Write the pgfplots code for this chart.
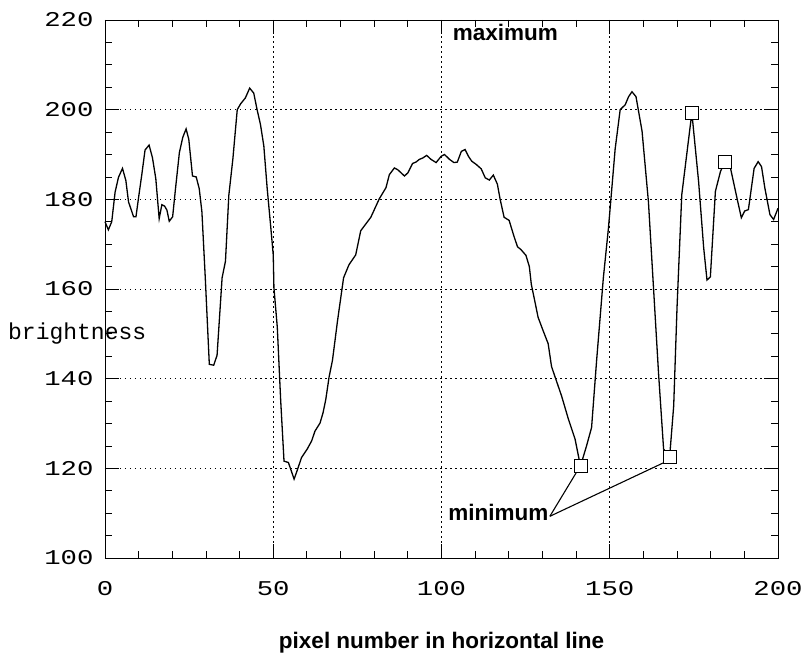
\documentclass[border=0pt]{standalone}
\usepackage{fontspec}
\usepackage{pgfplots}
\pgfplotsset{compat=1.18}
\usetikzlibrary{calc}
\newfontfamily\tickfont[FakeStretch=1.3]{Liberation Mono}
\newfontfamily\monofont{Liberation Mono}
\newfontfamily\arialfont{Liberation Sans}
\begin{document}
\begin{tikzpicture}
\begin{axis}[
  scale only axis, width=673pt, height=538pt,
  xmin=0, xmax=200, ymin=100, ymax=220,
  xtick={0,50,100,150,200}, ytick={100,120,...,220},
  minor xtick={10,20,30,40,60,70,80,90,110,120,130,140,160,170,180,190},
  minor ytick={105,110,115,125,130,135,145,150,155,165,170,175,185,190,195,205,210,215},
  tick align=inside,
  major tick length=14pt, minor tick length=7pt,
  every tick/.style={black, line width=0.8pt},
  axis line style={black, line width=0.9pt},
  grid=major,
  major grid style={black, line width=0.9pt, dash pattern=on 1.5pt off 3.5pt},
  /pgf/number format/assume math mode=true,
  xticklabel style={font=\tickfont\fontsize{21}{21}\selectfont, yshift=-20pt},
  yticklabel style={font=\tickfont\fontsize{21}{21}\selectfont, xshift=-8pt},
  clip=false,
]
\addplot[black, line width=1.3pt, mark=none] coordinates {
(0,175.0) (1,173.2) (2,175) (3,181.6) (4,184.9) (5.2,186.9) (6.2,184.2) (7,179.4)
(8.5,176.1) (9.2,176.1) (10.2,181.6) (10.9,185.3) (11.9,191) (13.1,192.1) (14.1,189.3)
(15.1,184.6) (16.1,175.7) (16.9,178.8) (17.7,178.5) (18.4,177.6) (19.1,175.1) (20.1,176.1)
(20.9,182) (22.1,190.4) (23.1,193.8) (24.1,195.7) (24.9,193.4) (26,185.2) (27.1,185)
(28,182.4) (28.8,177.2) (29.8,162.5) (31,143.2) (32.3,143) (33.3,145.2) (34.8,162.5)
(35.8,166.2) (36.8,180.9) (38,189) (39.3,200) (40.3,201.3) (41.7,202.6) (43,204.8)
(44.2,203.7) (45.2,200) (46.2,196.7) (47.2,191.9) (48.2,182.4) (49.2,174.3) (50,167.6)
(50.2,160.3) (51.2,151.5) (52.2,135.3) (53.2,121.6) (54.5,121.3) (56.2,117.6) (57.1,119.5)
(58.4,122.4) (60.1,124.3) (61.4,126.1) (62.4,128.3) (63.9,130.1) (64.8,132.4) (65.6,135.3)
(66.6,140.4) (67.6,144.1) (69.1,152.9) (70.9,162.5) (72.5,165.4) (74.5,167.6) (76,173)
(79,176) (81.5,180.1) (83.5,182.6) (84.5,185.5) (86,187) (87,186.6) (89,185.2) (90,185.9)
(91.4,188) (92.4,188.3) (93.4,188.9) (94.4,189.2) (95.6,189.8) (96.9,188.9) (98.4,188.2)
(99.9,189.6) (100.9,190) (102.4,188.9) (103.7,188.2) (104.7,188.3) (105.9,190.7) (107.0,191.1)
(108.0,189.6) (109.0,188.5) (110.3,187.8) (111.8,186.8) (113,184.8) (114.2,184.3) (115.4,185.4)
(116.6,183.4) (117.4,180.1) (118.6,176) (120.1,175.3) (121.6,171.6) (122.6,169.4) (123.6,168.8)
(125.1,167.5) (126.1,165) (126.7,161.0) (127.7,157.4) (128.7,153.7) (130.2,150.7) (131.7,147.8)
(132.7,142.7) (133.7,140.5) (135.7,136.1) (137.7,131) (139.7,126.5) (141.3,120.5) (143.1,125)
(144.6,129.1) (146.1,144.1) (148.1,162.5) (149.6,173.5) (150.6,182.3) (151.6,191.2) (153.1,200)
(154.6,201.1) (155.6,202.9) (156.6,204.0) (157.8,202.9) (159.6,195.2) (161.5,179.4) (163,160.3)
(164.5,141.2) (166.0,124.3) (167.8,122.6) (169.0,133.9) (170,156) (171.4,181) (174.4,199.3)
(176.4,184) (177.9,169.3) (178.9,162) (179.9,162.7) (181.4,181.8) (182.9,186.2) (184.2,188.4)
(185.9,186.9) (187.6,181) (189.1,175.9) (190.1,177.4) (191.2,177.7) (192.9,186.9) (194.1,188.4)
(195.1,187.3) (196.1,182.5) (197.6,176.6) (198.7,175.5) (200,178)
};
\addplot[only marks, mark=square*, mark size=6.5pt, mark options={fill=white, draw=black, line width=0.9pt}] coordinates {
(141.3,120.5) (167.8,122.6) (174.4,199.3) (184.2,188.4)
};
\draw[black, line width=1.1pt] (axis cs:132.2,109.3) -- (axis cs:140.1,119.1);
\draw[black, line width=1.1pt] (axis cs:132.2,109.3) -- (axis cs:167.0,121.6);
\node[font=\arialfont\bfseries\fontsize{22.5}{22.5}\selectfont, inner sep=0pt] at (axis cs:119,217.2) {maximum};
\node[font=\arialfont\bfseries\fontsize{22.5}{22.5}\selectfont, inner sep=0pt, anchor=east] at (axis cs:131.8,110.2) {minimum};
\node[font=\monofont\fontsize{23}{23}\selectfont, inner sep=0pt, anchor=west, xshift=-97pt] at (rel axis cs:0,0.4167) {brightness};
\node[font=\arialfont\bfseries\fontsize{22.5}{22.5}\selectfont, inner sep=0pt, yshift=-85pt] at (rel axis cs:0.5,0) {pixel number in horizontal line};
\coordinate (BL) at (rel axis cs:0,0);
\coordinate (TR) at (rel axis cs:1,1);
\end{axis}
\pgfresetboundingbox
\path ($(BL)+(-105pt,-95pt)$) rectangle ($(TR)+(28pt,20pt)$);
\end{tikzpicture}
\end{document}
